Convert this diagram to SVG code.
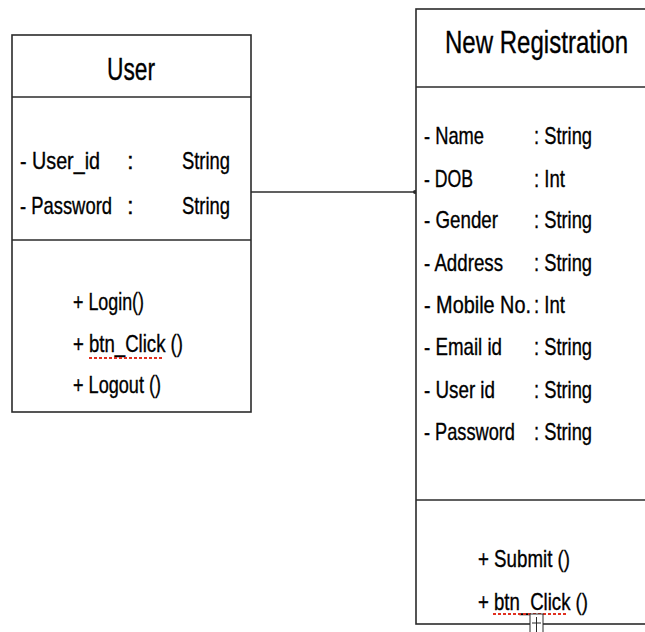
<svg xmlns="http://www.w3.org/2000/svg" width="645" height="632" viewBox="0 0 645 632">
<style>
.box{fill:#fff;stroke:#2b2b2b;stroke-width:1.6}
.ln{stroke:#2b2b2b;stroke-width:1.6;fill:none}
text{font-family:"Liberation Sans",Arial,sans-serif;fill:#000;stroke:#000;stroke-width:0.35}
.t{font-size:32px}
.a{font-size:24px}
.m{font-size:23px}
.sp{stroke:#e03020;stroke-width:2;stroke-dasharray:3 2;fill:none}
</style>
<rect width="645" height="632" fill="#fff"/>
<g id="connectors">
<line class="ln" x1="251" y1="192" x2="416" y2="192" stroke-width="1.2"/>
<circle cx="415" cy="192" r="2" fill="#2b2b2b"/>
</g>
<g id="user">
<rect class="box" x="12" y="35" width="239" height="377"/>
<line class="ln" x1="12" y1="97" x2="251" y2="97"/>
<line class="ln" x1="12" y1="240" x2="251" y2="240"/>
<text class="t" x="107" y="80" textLength="48" lengthAdjust="spacingAndGlyphs">User</text>
<text class="a" x="20" y="169" textLength="80" lengthAdjust="spacingAndGlyphs">- User_id</text>
<text class="a" x="127" y="169">:</text>
<text class="a" x="182" y="169" textLength="48" lengthAdjust="spacingAndGlyphs">String</text>
<text class="a" x="20" y="214" textLength="92" lengthAdjust="spacingAndGlyphs">- Password</text>
<text class="a" x="127" y="214">:</text>
<text class="a" x="182" y="214" textLength="48" lengthAdjust="spacingAndGlyphs">String</text>
<text class="m" x="73" y="310" textLength="71" lengthAdjust="spacingAndGlyphs">+ Login()</text>
<text class="m" x="73" y="352" textLength="110" lengthAdjust="spacingAndGlyphs">+ btn_Click ()</text>
<line class="sp" x1="89" y1="358" x2="163" y2="358"/>
<text class="m" x="73" y="393" textLength="88" lengthAdjust="spacingAndGlyphs">+ Logout ()</text>
</g>
<g id="new-registration">
<rect class="box" x="416" y="9" width="240" height="615"/>
<line class="ln" x1="416" y1="87" x2="645" y2="87"/>
<line class="ln" x1="416" y1="500" x2="645" y2="500"/>
<text class="t" x="445" y="53" textLength="183" lengthAdjust="spacingAndGlyphs">New Registration</text>
<text class="a" x="424" y="144" textLength="60" lengthAdjust="spacingAndGlyphs">- Name</text><text class="a" x="534" y="144" textLength="58" lengthAdjust="spacingAndGlyphs">: String</text>
<text class="a" x="424" y="187" textLength="49" lengthAdjust="spacingAndGlyphs">- DOB</text><text class="a" x="534" y="187" textLength="31" lengthAdjust="spacingAndGlyphs">: Int</text>
<text class="a" x="424" y="228" textLength="74" lengthAdjust="spacingAndGlyphs">- Gender</text><text class="a" x="534" y="228" textLength="58" lengthAdjust="spacingAndGlyphs">: String</text>
<text class="a" x="424" y="271" textLength="79" lengthAdjust="spacingAndGlyphs">- Address</text><text class="a" x="534" y="271" textLength="58" lengthAdjust="spacingAndGlyphs">: String</text>
<text class="a" x="424" y="313" textLength="107" lengthAdjust="spacingAndGlyphs">- Mobile No.</text><text class="a" x="534" y="313" textLength="31" lengthAdjust="spacingAndGlyphs">: Int</text>
<text class="a" x="424" y="355" textLength="78" lengthAdjust="spacingAndGlyphs">- Email id</text><text class="a" x="534" y="355" textLength="58" lengthAdjust="spacingAndGlyphs">: String</text>
<text class="a" x="424" y="398" textLength="71" lengthAdjust="spacingAndGlyphs">- User id</text><text class="a" x="534" y="398" textLength="58" lengthAdjust="spacingAndGlyphs">: String</text>
<text class="a" x="424" y="440" textLength="91" lengthAdjust="spacingAndGlyphs">- Password</text><text class="a" x="534" y="440" textLength="58" lengthAdjust="spacingAndGlyphs">: String</text>
<text class="a" x="478" y="567" textLength="92" lengthAdjust="spacingAndGlyphs">+ Submit ()</text>
<text class="a" x="478" y="610" textLength="110" lengthAdjust="spacingAndGlyphs">+ btn_Click ()</text>
<line class="sp" x1="493" y1="614" x2="568" y2="614"/>
<rect x="530" y="614" width="13" height="22" fill="#fff" stroke="#2b2b2b" stroke-width="1"/>
<line x1="536.5" y1="617" x2="536.5" y2="632" stroke="#2b2b2b" stroke-width="1"/>
<line x1="532" y1="623" x2="541" y2="623" stroke="#2b2b2b" stroke-width="1"/>
</g>
</svg>
